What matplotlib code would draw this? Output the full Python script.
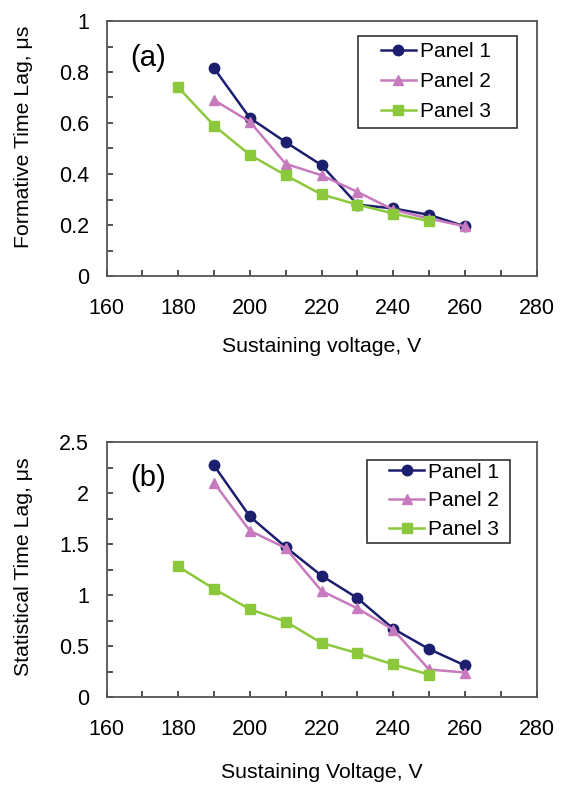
import matplotlib
matplotlib.use("Agg")
import matplotlib.pyplot as plt
from matplotlib.ticker import MultipleLocator, FuncFormatter
from matplotlib.patches import Rectangle

plt.rcParams['font.family'] = ['Liberation Sans', 'DejaVu Sans']

# ---- data ----
series_names = ["Panel 1", "Panel 2", "Panel 3"]

a_x1 = [190, 200, 210, 220, 230, 240, 250, 260]
a_y1 = [0.815, 0.62, 0.525, 0.435, 0.28, 0.265, 0.24, 0.195]
a_x2 = [190, 200, 210, 220, 230, 240, 250, 260]
a_y2 = [0.69, 0.605, 0.44, 0.395, 0.33, 0.26, 0.225, 0.195]
a_x3 = [180, 190, 200, 210, 220, 230, 240, 250]
a_y3 = [0.74, 0.59, 0.475, 0.395, 0.32, 0.28, 0.245, 0.215]

b_x1 = [190, 200, 210, 220, 230, 240, 250, 260]
b_y1 = [2.27, 1.77, 1.47, 1.19, 0.97, 0.67, 0.47, 0.31]
b_x2 = [190, 200, 210, 220, 230, 240, 250, 260]
b_y2 = [2.10, 1.63, 1.46, 1.04, 0.87, 0.66, 0.27, 0.24]
b_x3 = [180, 190, 200, 210, 220, 230, 240, 250]
b_y3 = [1.28, 1.06, 0.86, 0.74, 0.53, 0.43, 0.32, 0.22]

x_ticks = [160, 180, 200, 220, 240, 260, 280]
a_yticks = [0, 0.2, 0.4, 0.6, 0.8, 1]
b_yticks = [0, 0.5, 1, 1.5, 2, 2.5]

# ---- style ----
colors = ["#1c1f6e", "#c77abd", "#8cc83c"]
markers = ["o", "^", "s"]
msizes = [7.5, 7.5, 7]
FS_TICK = 15.5
FS_LAB = 15.3
FS_LEG = 15
spine_col = "#555555"

W, H = 564, 787
fig = plt.figure(figsize=(W / 100, H / 100), dpi=100)

L, R = 106.5 / W, 536.5 / W
axA = fig.add_axes([L, 1 - 276 / H, R - L, (276 - 21) / H])
axB = fig.add_axes([L, 1 - 697 / H, R - L, (697 - 442) / H])


def style(ax, yticks, yminor):
    ax.set_xlim(160, 280)
    ax.set_ylim(yticks[0], yticks[-1])
    ax.set_xticks(x_ticks)
    ax.set_yticks(yticks)
    ax.xaxis.set_minor_locator(MultipleLocator(10))
    ax.yaxis.set_minor_locator(MultipleLocator(yminor))
    ax.yaxis.set_major_formatter(FuncFormatter(lambda v, p: "%g" % v))
    ax.tick_params(which="both", direction="in", length=4, width=1.2,
                   color="#333333", top=False, right=False)
    ax.tick_params(axis="x", which="major", labelsize=FS_TICK, pad=15.5)
    ax.tick_params(axis="y", which="major", labelsize=FS_TICK, pad=12.5)
    for s in ax.spines.values():
        s.set_color(spine_col)
        s.set_linewidth(1.3)


def draw(ax, xs, ys):
    for x, y, c, m, ms, n in zip(xs, ys, colors, markers, msizes, series_names):
        ax.plot(x, y, color=c, marker=m, markersize=ms, linewidth=1.8,
                markeredgecolor=c, label=n)


draw(axA, [a_x1, a_x2, a_x3], [a_y1, a_y2, a_y3])
draw(axB, [b_x1, b_x2, b_x3], [b_y1, b_y2, b_y3])
style(axA, a_yticks, 0.1)
style(axB, b_yticks, 0.25)

# legends: frameless legend + explicit frame rectangle
leg_cfg = [
    (axA, (0.638, 0.761), 1.69, 0.53, (0.585, 0.580, 0.955 - 0.585, 0.941 - 0.580)),
    (axB, (0.658, 0.769), 1.64, 0.47, (0.606, 0.604, 0.938 - 0.606, 0.929 - 0.604)),
]
for ax, anchor, hl, ls, rect in leg_cfg:
    ax.legend(loc="center left", bbox_to_anchor=anchor, borderaxespad=0,
              borderpad=0, fontsize=FS_LEG, frameon=False, handlelength=hl,
              handletextpad=0.2, labelspacing=ls)
    ax.add_patch(Rectangle((rect[0], rect[1]), rect[2], rect[3],
                           transform=ax.transAxes, fill=False,
                           edgecolor="#333333", linewidth=1.2, zorder=5))

axA.text(0.055, 0.855, "(a)", transform=axA.transAxes, fontsize=21,
         ha="left", va="center")
axB.text(0.055, 0.859, "(b)", transform=axB.transAxes, fontsize=21,
         ha="left", va="center")

fig.text(24 / W, 1 - 137 / H, "Formative Time Lag, \u03bcs", rotation=90,
         ha="center", va="center", fontsize=FS_LAB)
fig.text(24 / W, 1 - 567 / H, "Statistical Time Lag, \u03bcs", rotation=90,
         ha="center", va="center", fontsize=FS_LAB)
fig.text((106.5 + 536.5) / 2 / W, 1 - 346 / H, "Sustaining voltage, V",
         ha="center", va="center", fontsize=FS_LAB)
fig.text((106.5 + 536.5) / 2 / W, 1 - 772 / H, "Sustaining Voltage, V",
         ha="center", va="center", fontsize=FS_LAB)

fig.savefig("out.png", dpi=100)
